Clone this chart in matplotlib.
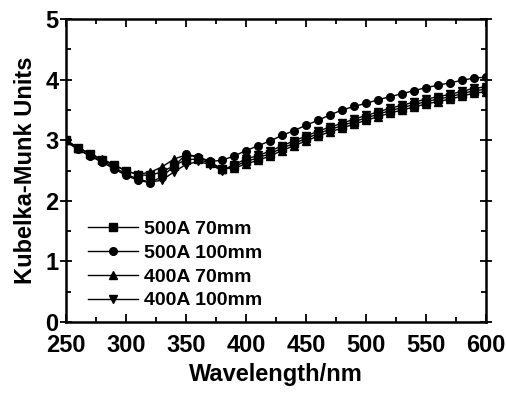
import numpy as np
import matplotlib
matplotlib.use("Agg")
import matplotlib.pyplot as plt
from matplotlib.ticker import MultipleLocator

plt.rcParams['font.family'] = ['Liberation Sans', 'DejaVu Sans']

# wavelength grid, nm
wl = np.arange(250, 601, 10)

# 500A 70mm (squares)
k_500_70 = [3.00, 2.88, 2.78, 2.68, 2.59, 2.50, 2.43, 2.42, 2.48, 2.58,
            2.68, 2.69, 2.62, 2.52, 2.57, 2.65, 2.71, 2.78, 2.87, 2.95,
            3.03, 3.11, 3.18, 3.24, 3.31, 3.37, 3.43, 3.49, 3.54, 3.59,
            3.64, 3.68, 3.72, 3.77, 3.82, 3.84]
# 500A 100mm (circles)
k_500_100 = [3.00, 2.85, 2.74, 2.64, 2.53, 2.42, 2.34, 2.30, 2.40, 2.57,
             2.77, 2.73, 2.65, 2.67, 2.74, 2.83, 2.91, 2.99, 3.08, 3.16,
             3.25, 3.33, 3.42, 3.50, 3.56, 3.61, 3.67, 3.72, 3.77, 3.82,
             3.87, 3.91, 3.95, 3.99, 4.03, 4.04]
# 400A 70mm (up triangles)
k_400_70 = [3.00, 2.88, 2.78, 2.69, 2.60, 2.49, 2.44, 2.47, 2.56, 2.69,
            2.76, 2.72, 2.64, 2.53, 2.54, 2.61, 2.67, 2.74, 2.83, 2.91,
            2.99, 3.07, 3.14, 3.20, 3.27, 3.33, 3.39, 3.45, 3.50, 3.55,
            3.60, 3.64, 3.68, 3.73, 3.78, 3.80]
# 400A 100mm (down triangles)
k_400_100 = [2.98, 2.85, 2.75, 2.66, 2.56, 2.44, 2.36, 2.31, 2.34, 2.48,
             2.60, 2.65, 2.60, 2.50, 2.60, 2.69, 2.75, 2.82, 2.91, 2.99,
             3.07, 3.15, 3.22, 3.28, 3.35, 3.41, 3.47, 3.53, 3.58, 3.63,
             3.68, 3.72, 3.76, 3.81, 3.86, 3.88]

labels = ["500A 70mm", "500A 100mm", "400A 70mm", "400A 100mm"]
markers = ["s", "o", "^", "v"]


def main():
    fig = plt.figure(figsize=(5.07, 3.99), dpi=100)
    ax = fig.add_axes([0.130, 0.193, 0.829, 0.759])

    for ys, m, lab in zip([k_500_70, k_500_100, k_400_70, k_400_100], markers, labels):
        ax.plot(wl, ys, color="black", linewidth=1.0, marker=m,
                markersize=5.5, label=lab)

    ax.set_xlim(250, 600)
    ax.set_ylim(0, 5)
    ax.xaxis.set_major_locator(MultipleLocator(50))
    ax.xaxis.set_minor_locator(MultipleLocator(25))
    ax.yaxis.set_major_locator(MultipleLocator(1))
    ax.yaxis.set_minor_locator(MultipleLocator(0.5))
    ax.tick_params(which="both", direction="in", top=True, right=True,
                   width=1.3, labelsize=17)
    ax.tick_params(which="major", length=6)
    ax.tick_params(which="minor", length=3.5)
    ax.tick_params(axis="y", which="major", direction="inout", length=9, pad=1)
    ax.tick_params(axis="x", which="major", pad=9)
    for s in ax.spines.values():
        s.set_linewidth(1.8)
    for t in ax.get_xticklabels() + ax.get_yticklabels():
        t.set_fontweight("bold")

    ax.set_xlabel("Wavelength/nm", fontsize=17, fontweight="bold", labelpad=4)
    ax.set_ylabel("Kubelka-Munk Units", fontsize=17, fontweight="bold", labelpad=6)

    leg = ax.legend(loc="lower left", frameon=False, fontsize=14,
                    handlelength=2.6, handletextpad=0.3, labelspacing=0.32,
                    borderaxespad=0.4, bbox_to_anchor=(0.015, -0.01))
    for t in leg.get_texts():
        t.set_fontweight("bold")

    fig.savefig("out.png", dpi=100)


if __name__ == '__main__':
    main()
